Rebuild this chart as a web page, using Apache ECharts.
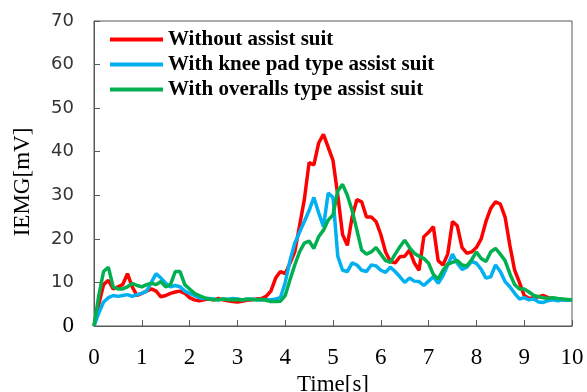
<!DOCTYPE html>
<html>
<head>
<meta charset="utf-8">
<script src="https://cdn.jsdelivr.net/npm/echarts@6/dist/echarts.min.js"></script>
<style>
  html, body { margin: 0; padding: 0; background: #fff; }
  #iemg { width: 587px; height: 392px; }
</style>
</head>
<body>
<div id="iemg"></div>
<script>
// 时间轴 0 ~ 10 s，每 0.1 s 一个点
var timeSec = [];
for (var i = 0; i <= 100; i++) timeSec.push(+(i / 10).toFixed(1));

var seriesNames = ['Without assist suit', 'With knee pad type assist suit', 'With overalls type assist suit'];

// 从图上读出来的 IEMG 值 (mV)
var withoutSuit = [
  0, 5, 9.5, 10.5, 8.5, 9, 9.5, 12, 9, 7,
  7.5, 8, 8.5, 8, 6.7, 7, 7.5, 7.8, 8, 7.5,
  6.5, 6, 5.8, 6, 6.2, 6, 6.3, 6, 5.8, 5.6,
  5.5, 5.7, 5.9, 6, 6.2, 6.3, 6.8, 8, 11, 12.5,
  12, 14.4, 17, 23, 29, 37.5, 37, 42, 44, 41,
  38, 30, 21, 18.5, 25, 29, 28.5, 25, 25, 24,
  21, 17, 14.8, 14.5, 15.9, 16, 17.4, 14.5, 12.8, 20.5,
  21.5, 22.8, 15, 14, 16.5, 24, 23, 18, 16.7, 17,
  18, 20, 24, 27, 28.5, 28, 25, 18.5, 12.8, 10,
  7, 6.3, 6.5, 6.7, 7, 6.5, 6.3, 6.2, 6, 6,
  6
];
var kneePad = [
  0, 3, 5.5, 6.5, 7, 6.8, 7, 7.2, 6.8, 7.2,
  7.5, 8, 10, 12, 11, 9.8, 9, 9.3, 9, 8,
  7.5, 7, 6.5, 6.3, 6.3, 6.2, 6, 6.2, 6.1, 6.3,
  6.2, 6, 6.1, 6.2, 6, 6.1, 6, 6, 6.2, 6.5,
  10, 15, 19, 21.5, 24, 26.5, 29.5, 26, 22.8, 30.5,
  29.5, 16, 12.8, 12.5, 14.5, 14, 12.8, 12.5, 14, 13.8,
  12.8, 12.3, 13.5, 12.5, 11.3, 10, 11, 10.3, 10.2, 9.3,
  10.3, 11.3, 9.8, 11.5, 14, 16.5, 14.4, 13, 13.5, 14.8,
  14.4, 13, 11, 11.3, 14, 12.5, 10.2, 9, 7.5, 6.2,
  6.5, 6, 6.2, 5.5, 5.4, 5.8, 6, 5.8, 6, 5.9,
  6
];
var overalls = [
  0, 7, 12.5, 13.5, 9, 8.5, 8.5, 9, 9.8, 9.3,
  9, 9.5, 9.8, 9.5, 10.2, 9, 9.5, 12.5, 12.5, 9.5,
  8.5, 7.5, 7, 6.5, 6.2, 6, 6, 6.2, 6.1, 6,
  6.1, 6, 6.2, 6.1, 6, 6.1, 5.9, 5.6, 5.6, 5.7,
  7, 10.6, 14, 17, 19, 19.5, 17.8, 20.5, 22, 24.3,
  25.5, 31, 32.5, 30, 26.5, 22, 17.4, 16.5, 17, 18,
  16.5, 15, 14.6, 16.5, 18.2, 19.7, 18, 16.7, 16, 15.5,
  14.4, 11.8, 10.8, 12.8, 14.2, 14.6, 15, 14, 13.8, 15.2,
  17, 15.5, 14.8, 17, 17.8, 16.5, 15, 12, 9.5, 8.5,
  8.5, 7.8, 7, 6.7, 6.5, 6.3, 6.5, 6.3, 6.2, 6.1,
  6
];
var lineColors = ['#ff0000', '#00b0f0', '#00b050'];

function pairs(vals) {
  return timeSec.map(function (t, k) { return [t, vals[k]]; });
}

var myChart = echarts.init(document.getElementById('iemg'));

var serifFont = '"Liberation Serif", "Times New Roman", serif';

var option = {
  animation: false,
  grid: {
    left: 94, right: 15, top: 21, bottom: 66,
    outerBoundsMode: 'none',
    show: true, borderColor: '#595959', borderWidth: 1
  },
  legend: {
    orient: 'vertical',
    left: 110, top: 29,
    padding: 0,
    icon: 'rect',
    itemWidth: 53, itemHeight: 4,
    itemGap: 4,
    textStyle: { fontFamily: serifFont, fontWeight: 'bold', fontSize: 21, color: '#000', lineHeight: 20 },
    data: seriesNames
  },
  xAxis: {
    type: 'value',
    min: 0, max: 10, interval: 1,
    name: 'Time[s]',
    nameLocation: 'middle',
    nameGap: 45,
    nameTextStyle: { fontFamily: serifFont, fontSize: 23, color: '#000' },
    axisLine: { lineStyle: { color: '#595959' } },
    axisTick: { inside: true, length: 6, lineStyle: { color: '#595959' } },
    axisLabel: { margin: 20, fontFamily: serifFont, fontSize: 23, color: '#000' },
    splitLine: { show: false }
  },
  yAxis: {
    type: 'value',
    min: 0, max: 70, interval: 10,
    name: 'IEMG[mV]',
    nameLocation: 'middle',
    nameGap: 60,
    nameTextStyle: { fontFamily: serifFont, fontSize: 23, color: '#000', padding: [0, 17, 0, 0] },
    axisLine: { show: true, lineStyle: { color: '#595959' } },
    axisTick: { show: true, inside: true, length: 6, lineStyle: { color: '#595959' } },
    axisLabel: {
      margin: 20,
      fontFamily: '"DejaVu Sans", sans-serif', fontSize: 18, color: '#333',
      formatter: function (v) { return v === 0 ? '{z|0}' : String(v); },
      rich: { z: { fontFamily: serifFont, fontSize: 23, color: '#000' } }
    },
    splitLine: { show: false }
  },
  series: [withoutSuit, kneePad, overalls].map(function (vals, k) {
    return {
      name: seriesNames[k],
      type: 'line',
      data: pairs(vals),
      showSymbol: false,
      symbol: 'none',
      color: lineColors[k],
      lineStyle: { width: 3.5, color: lineColors[k] }
    };
  })
};

myChart.setOption(option);
</script>
</body>
</html>
